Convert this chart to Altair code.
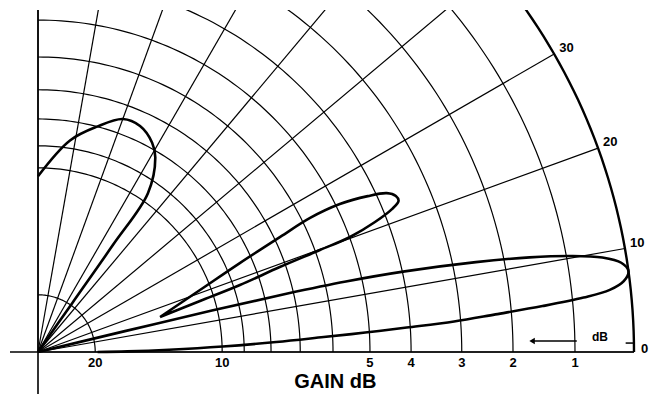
import altair as alt
import pandas as pd

# ---------------- data ----------------
spoke_deg = [0, 10, 20, 30, 40, 50, 60, 70, 80, 90]
arc_db = [1, 2, 3, 4, 5, 6, 7, 8, 9, 10, 20]
arc_radius = [0.901, 0.797, 0.711, 0.626, 0.557, 0.495, 0.440, 0.391, 0.346, 0.309, 0.096]
gain_labels = ["1", "2", "3", "4", "5", "", "", "", "", "10", "20"]
angle_label_deg = [10, 20, 30]
angle_labels = ["10", "20", "30"]

# lobes: elevation angle (deg) and relative field strength (0 dB = 1)
main_lobe_deg = [13.6, 13.5, 13.4, 13.2, 12.9, 12.4, 11.6, 10.9, 10.2, 9.5, 8.7, 7.8, 6.9,
                 6.2, 5.7, 5.2, 4.7, 4.2, 3.8, 3.4, 3.0, 2.4, 1.7, 1.0, 0.4, 0.0]
main_lobe_r = [0.0, 0.15, 0.30, 0.43, 0.53, 0.63, 0.75, 0.84, 0.91, 0.96, 0.99, 1.0, 0.99,
               0.965, 0.92, 0.85, 0.77, 0.70, 0.62, 0.55, 0.48, 0.40, 0.31, 0.22, 0.15, 0.10]

mid_lobe_deg = [16.0, 20.94, 23.78, 25.42, 26.23, 26.11, 25.3, 24.49, 23.55, 22.75, 22.0,
                21.09, 20.23, 19.88, 19.36, 18.35, 17.47, 16.0]
mid_lobe_r = [0.213, 0.291, 0.370, 0.450, 0.509, 0.564, 0.612, 0.643, 0.655, 0.656, 0.641,
              0.606, 0.558, 0.503, 0.430, 0.357, 0.285, 0.213]

high_lobe_deg = [90, 81.4, 75.3, 70, 65.7, 61.4, 58.9, 55.3, 55.0, 55.0, 55.0]
high_lobe_r = [0.295, 0.359, 0.391, 0.416, 0.416, 0.4, 0.381, 0.324, 0.22, 0.1, 0.0]

# ---------------- frame ----------------
W, H = 645, 384
XMIN, XMAX = -0.05034, 1.03188
YMAX = 0.57383
YMIN = YMAX - H / 596.0
FONT = "Liberation Sans"

xs = alt.Scale(domain=[XMIN, XMAX], nice=False, zero=False)
ys = alt.Scale(domain=[YMIN, YMAX], nice=False, zero=False)


def X(f):
    return alt.X(f, type="quantitative", scale=xs, axis=None)


def Y(f):
    return alt.Y(f, type="quantitative", scale=ys, axis=None)


def polar(ch, r="r", d="deg", px="px", py="py"):
    return ch.transform_calculate(**{
        px: f"datum.{r}*cos(datum.{d}*PI/180)",
        py: f"datum.{r}*sin(datum.{d}*PI/180)",
    })


# arcs (grid circles)
sweep = list(range(0, 91))
arc_rows = [{"arc": db, "r": rr, "deg": a} for db, rr in zip(arc_db, arc_radius) for a in sweep]
arc_rows += [{"arc": 0, "r": 1.0, "deg": a} for a in sweep]
arcs_df = pd.DataFrame(arc_rows)

arcs = polar(alt.Chart(arcs_df)).transform_filter("datum.arc > 0").mark_line(
    color="black", strokeWidth=1.2, clip=True
).encode(x=X("px"), y=Y("py"), detail="arc:N", order="deg:Q")

outer = polar(alt.Chart(arcs_df)).transform_filter("datum.arc == 0").mark_line(
    color="black", strokeWidth=2.4, clip=True
).encode(x=X("px"), y=Y("py"), order="deg:Q")

spokes_df = pd.DataFrame({"deg": spoke_deg, "r": 1.0})
spokes = polar(alt.Chart(spokes_df)).transform_calculate(ox="0", oy="0").mark_rule(
    color="black", strokeWidth=1.2, clip=True
).encode(x=X("ox"), y=Y("oy"), x2="px:Q", y2="py:Q")

# axes lines through the origin
axes_df = pd.DataFrame({"x1": [-0.047, 0.0], "y1": [0.0, YMIN], "x2": [1.0, 0.0], "y2": [0.0, 1.0]})
axes = alt.Chart(axes_df).mark_rule(color="black", strokeWidth=1.6, clip=True).encode(
    x=X("x1"), y=Y("y1"), x2="x2:Q", y2="y2:Q")

# lobes
lobe_rows = []
for name, dl, rl in [("main", main_lobe_deg, main_lobe_r),
                     ("mid", mid_lobe_deg, mid_lobe_r),
                     ("high", high_lobe_deg, high_lobe_r)]:
    for i, (d, r) in enumerate(zip(dl, rl)):
        lobe_rows.append({"lobe": name, "i": i, "deg": d, "r": r})
lobes_df = pd.DataFrame(lobe_rows)
lobes = polar(alt.Chart(lobes_df)).mark_line(
    color="black", strokeWidth=2.6, interpolate="catmull-rom", clip=True
).encode(x=X("px"), y=Y("py"), detail="lobe:N", order="i:Q")

# gain labels under the baseline
gl_df = pd.DataFrame({"r": arc_radius, "lab": gain_labels, "deg": 0.0})
gain_text = polar(alt.Chart(gl_df)).mark_text(
    font=FONT, fontWeight="bold", fontSize=13, dy=11, color="black"
).encode(x=X("px"), y=Y("py"), text="lab:N")

zero_text = alt.Chart(pd.DataFrame({"x": [1.0], "y": [0.0], "lab": ["0"]})).mark_text(
    font=FONT, fontWeight="bold", fontSize=13, align="left", dx=7, dy=-3, color="black"
).encode(x=X("x"), y=Y("y"), text="lab:N")

al_df = pd.DataFrame({"deg": angle_label_deg, "r": 1.0, "lab": angle_labels})
angle_text = polar(alt.Chart(al_df)).mark_text(
    font=FONT, fontWeight="bold", fontSize=13, align="left", dx=5, dy=-6, color="black"
).encode(x=X("px"), y=Y("py"), text="lab:N")

title_text = alt.Chart(pd.DataFrame({"x": [0.499], "y": [-0.051], "lab": ["GAIN dB"]})).mark_text(
    font=FONT, fontWeight="bold", fontSize=20, color="black"
).encode(x=X("x"), y=Y("y"), text="lab:N")

# dB indicator: arrow and tick
arrow_df = pd.DataFrame({"x1": [0.829], "x2": [0.904], "y": [0.0185]})
arrow_shaft = alt.Chart(arrow_df).mark_rule(color="black", strokeWidth=1.5).encode(
    x=X("x1"), x2="x2:Q", y=Y("y"))
arrow_head = alt.Chart(arrow_df).mark_point(
    shape="triangle-left", filled=True, color="black", size=40, opacity=1
).encode(x=X("x1"), y=Y("y"))
tick_df = pd.DataFrame({"x1": [0.986], "x2": [1.0], "y": [0.015]})
zero_tick = alt.Chart(tick_df).mark_rule(color="black", strokeWidth=1.5).encode(
    x=X("x1"), x2="x2:Q", y=Y("y"))
db_text = alt.Chart(pd.DataFrame({"x": [0.943], "y": [0.025], "lab": ["dB"]})).mark_text(
    font=FONT, fontWeight="bold", fontSize=12, color="black"
).encode(x=X("x"), y=Y("y"), text="lab:N")

chart = alt.layer(
    arcs, spokes, outer, axes, lobes, gain_text, zero_text, angle_text, title_text,
    arrow_shaft, arrow_head, zero_tick, db_text
).properties(
    width=W, height=H, autosize="none",
    padding={"left": 0, "top": 2, "right": 0, "bottom": 0}
).configure_view(stroke=None)

chart.save("out.html", embed_options={"renderer": "svg", "actions": False})
